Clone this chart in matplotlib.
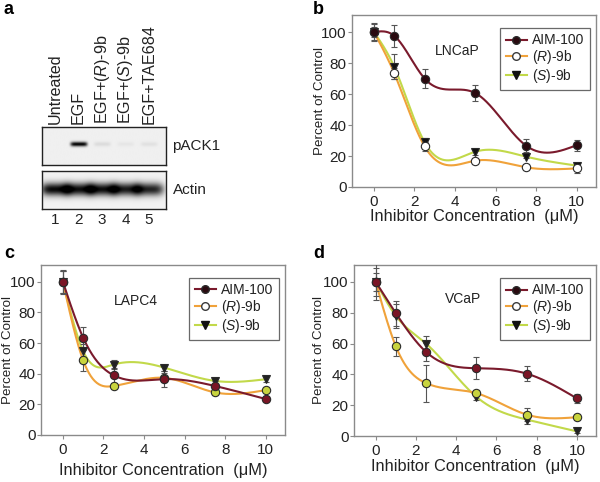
import numpy as np
import matplotlib
matplotlib.use("Agg")
import matplotlib.pyplot as plt
from matplotlib.lines import Line2D

plt.rcParams['font.family'] = ['Liberation Sans', 'DejaVu Sans']
plt.rcParams['mathtext.fontset'] = 'custom'
plt.rcParams['mathtext.it'] = 'Liberation Sans:italic'
plt.rcParams['mathtext.rm'] = 'Liberation Sans'

# ---------------- data ----------------
conc = [0, 1, 2.5, 5, 7.5, 10]
series_names = ['AIM-100', '($\\mathit{R}$)-9b', '($\\mathit{S}$)-9b']

# LNCaP (panel b)
lncap_aim = [100, 97.6, 70, 60.6, 26.7, 27]
lncap_aim_err = [6, 7, 6, 5, 4, 3.5]
lncap_r = [100, 73.5, 26.2, 17, 12.7, 12]
lncap_r_err = [3, 3.5, 3, 2, 2, 3]
lncap_s = [100, 77.6, 28.8, 22.8, 19.6, 13.8]
lncap_s_err = [5, 8, 3, 2, 1, 2]

# LAPC4 (panel c)
lapc4_aim = [100, 63.5, 39, 36.5, 32, 23.5]
lapc4_aim_err = [8, 7, 5, 5, 3, 1]
lapc4_r = [100, 48.7, 32, 37.3, 27.8, 29.3]
lapc4_r_err = [7, 7, 2, 3, 2, 2]
lapc4_s = [100, 54.7, 46, 44, 35.3, 36.4]
lapc4_s_err = [7, 5, 3, 2, 2, 2]

# VCaP (panel d)
vcap_aim = [100, 79.7, 54.6, 44, 40.5, 24.4]
vcap_aim_err = [9, 8, 6, 7, 5, 3]
vcap_r = [100, 58.2, 34.3, 27.8, 13.9, 12.2]
vcap_r_err = [12, 6, 12, 2, 4, 2]
vcap_s = [100, 78, 60, 25.5, 10.7, 3]
vcap_s_err = [6, 8, 5, 2, 3, 1]

# Western blot (panel a)
lane_labels = ['Untreated', 'EGF', 'EGF+($\\mathit{R}$)-9b', 'EGF+($\\mathit{S}$)-9b', 'EGF+TAE684']
lane_numbers = ['1', '2', '3', '4', '5']
pack1_intensity = [0.0, 0.95, 0.08, 0.04, 0.06]
actin_intensity = [0.92, 0.9, 0.9, 0.85, 0.82]

# ---------------- style ----------------
C_AIM = '#7a1a2c'
C_R = '#f0a23a'
C_S = '#c2d94a'
FRAME = '#8a8a8a'
TXT = '#222222'

W, H = 600, 482
fig = plt.figure(figsize=(6.0, 4.82), dpi=100)


def px_axes(x0, y0, x1, y1):
    return fig.add_axes([x0 / W, 1 - y1 / H, (x1 - x0) / W, (y1 - y0) / H])


def natural_spline(x, y, n=300):
    x = np.asarray(x, float)
    y = np.asarray(y, float)
    k = len(x)
    h = np.diff(x)
    A = np.zeros((k, k))
    b = np.zeros(k)
    A[0, 0] = 1
    A[-1, -1] = 1
    for i in range(1, k - 1):
        A[i, i - 1] = h[i - 1]
        A[i, i] = 2 * (h[i - 1] + h[i])
        A[i, i + 1] = h[i]
        b[i] = 6 * ((y[i + 1] - y[i]) / h[i] - (y[i] - y[i - 1]) / h[i - 1])
    M = np.linalg.solve(A, b)
    xs = np.linspace(x[0], x[-1], n)
    ys = np.empty_like(xs)
    for j, xv in enumerate(xs):
        i = min(np.searchsorted(x, xv, side='right') - 1, k - 2)
        t0 = x[i + 1] - xv
        t1 = xv - x[i]
        ys[j] = (M[i] * t0 ** 3 + M[i + 1] * t1 ** 3) / (6 * h[i]) \
            + (y[i] / h[i] - M[i] * h[i] / 6) * t0 \
            + (y[i + 1] / h[i] - M[i + 1] * h[i] / 6) * t1
    return xs, ys


def curve_panel(ax, data, cell, marker_faces, cell_pos, ylab_x, xlab_y):
    ax.set_xlim(-1.08, 10.95)
    ax.set_ylim(0, 111)
    order = [2, 1, 0]
    colors = [C_AIM, C_R, C_S]
    markers = ['o', 'o', 'v']
    for i in order:
        vals, errs = data[i]
        xs, ys = natural_spline(conc, vals)
        ax.plot(xs, ys, color=colors[i], lw=1.5, zorder=2 + (2 - i) * 0.1)
    for i in order:
        vals, errs = data[i]
        ax.errorbar(conc, vals, yerr=errs, fmt='none', ecolor='#555555',
                    elinewidth=0.8, capsize=2.5, capthick=0.8, zorder=3)
        ax.plot(conc, vals, linestyle='none', marker=markers[i],
                markersize=6,
                markerfacecolor=marker_faces[i], markeredgecolor='#2a2a2a',
                markeredgewidth=0.8, zorder=4)
    ax.set_xticks([0, 2, 4, 6, 8, 10])
    ax.set_yticks([0, 20, 40, 60, 80, 100])
    ax.tick_params(direction='out', length=3, width=0.8, color=FRAME,
                   labelsize=11, pad=1, labelcolor=TXT)
    ax.tick_params(axis='x', pad=2.5)
    for s in ax.spines.values():
        s.set_color(FRAME)
        s.set_linewidth(1.0)
    ax.set_xlabel('Inhibitor Concentration  (\u03bcM)', fontsize=11.8,
                  color=TXT, va='center')
    ax.set_ylabel('Percent of Control', fontsize=9.6, color=TXT,
                  va='center')
    ax.xaxis.set_label_coords(0.5, xlab_y)
    ax.yaxis.set_label_coords(ylab_x, 0.5)
    ax.text(cell_pos[0], cell_pos[1], cell, fontsize=10, ha='center', va='center',
            transform=ax.transAxes, color=TXT)
    handles = [
        Line2D([], [], color=C_AIM, lw=1.5, marker='o', markersize=5.5,
               markerfacecolor='#2a0a10', markeredgecolor='#2a2a2a'),
        Line2D([], [], color=C_R, lw=1.5, marker='o', markersize=5.5,
               markerfacecolor='white', markeredgecolor='#3a3a3a'),
        Line2D([], [], color=C_S, lw=1.5, marker='v', markersize=5.5,
               markerfacecolor='#111111', markeredgecolor='#111111'),
    ]
    leg = ax.legend(handles, series_names, loc='upper right',
                    bbox_to_anchor=(0.975, 0.925), fontsize=10, frameon=True,
                    fancybox=False, edgecolor='#444444', handlelength=1.55,
                    handletextpad=0.35, borderpad=0.4, labelspacing=0.05,
                    borderaxespad=0)
    leg.get_frame().set_linewidth(0.9)
    for t in leg.get_texts():
        t.set_color(TXT)


# ---------------- panel a: blot ----------------
lanes = np.arange(1, 6)
xlo, xhi = 0.43, 5.71


def blot(ax, intens, yc, sy, wx, sharp, base):
    gx = np.linspace(xlo, xhi, 300)
    gy = np.linspace(0, 1, 120)
    X, Y = np.meshgrid(gx, gy)
    img = np.full_like(X, base)
    for ln, a in zip(lanes, intens):
        img += a * np.exp(-np.abs((X - ln) / wx) ** sharp) * np.exp(-((Y - yc) / sy) ** 2)
    ax.imshow(np.clip(img, 0, 1), cmap='gray_r', vmin=0, vmax=1, origin='lower',
              extent=[xlo, xhi, 0, 1], aspect='auto', interpolation='bilinear')
    ax.set_xlim(xlo, xhi)
    ax.set_ylim(0, 1)
    ax.set_xticks([])
    ax.set_yticks([])
    for s in ax.spines.values():
        s.set_color('#222222')
        s.set_linewidth(1.0)


ax_p = px_axes(41.7, 127, 165.7, 165)
blot(ax_p, pack1_intensity, 0.55, 0.06, 0.36, 6, 0.06)
ax_act = px_axes(41.7, 171, 165.7, 209)
blot(ax_act, actin_intensity, 0.52, 0.17, 0.62, 4, 0.05)

for ln, lab in zip(lanes, lane_labels):
    ax_p.text(ln, 1.08, lab, rotation=90, ha='center', va='bottom',
              fontsize=11.6, transform=ax_p.get_xaxis_transform(), color=TXT)
for ln, lab in zip(lanes, lane_numbers):
    ax_act.text(ln, -0.3, lab, ha='center', va='center', fontsize=11,
                transform=ax_act.get_xaxis_transform(), color=TXT)
ax_p.text(1.05, 0.5, 'pACK1', transform=ax_p.transAxes, fontsize=11,
          ha='left', va='center', color=TXT)
ax_act.text(1.06, 0.5, 'Actin', transform=ax_act.transAxes, fontsize=11,
            ha='left', va='center', color=TXT)

# ---------------- panels b, c, d ----------------
ax_b = px_axes(352, 15, 596, 187)
curve_panel(ax_b,
            [(lncap_aim, lncap_aim_err), (lncap_r, lncap_r_err), (lncap_s, lncap_s_err)],
            'LNCaP', ['#2a0a10', 'white', '#111111'], (0.43, 0.79),
            -32 / 244, -30 / 172)

ax_c = px_axes(41, 265, 285, 435)
curve_panel(ax_c,
            [(lapc4_aim, lapc4_aim_err), (lapc4_r, lapc4_r_err), (lapc4_s, lapc4_s_err)],
            'LAPC4', ['#7a1525', '#c8d43e', '#222222'], (0.39, 0.79),
            -33 / 244, -35 / 170)

ax_d = px_axes(354, 265, 596, 436)
curve_panel(ax_d,
            [(vcap_aim, vcap_aim_err), (vcap_r, vcap_r_err), (vcap_s, vcap_s_err)],
            'VCaP', ['#7a1525', '#c8d43e', '#222222'], (0.45, 0.8),
            -35 / 242, -31 / 171)

# panel letters
for lab, (px, py) in zip('abcd', [(4, 10), (313, 10), (4, 254), (313, 253)]):
    fig.text(px / W, 1 - py / H, lab, fontsize=13, fontweight='bold',
             ha='left', va='center')

fig.savefig('out.png', dpi=100, facecolor='white')
